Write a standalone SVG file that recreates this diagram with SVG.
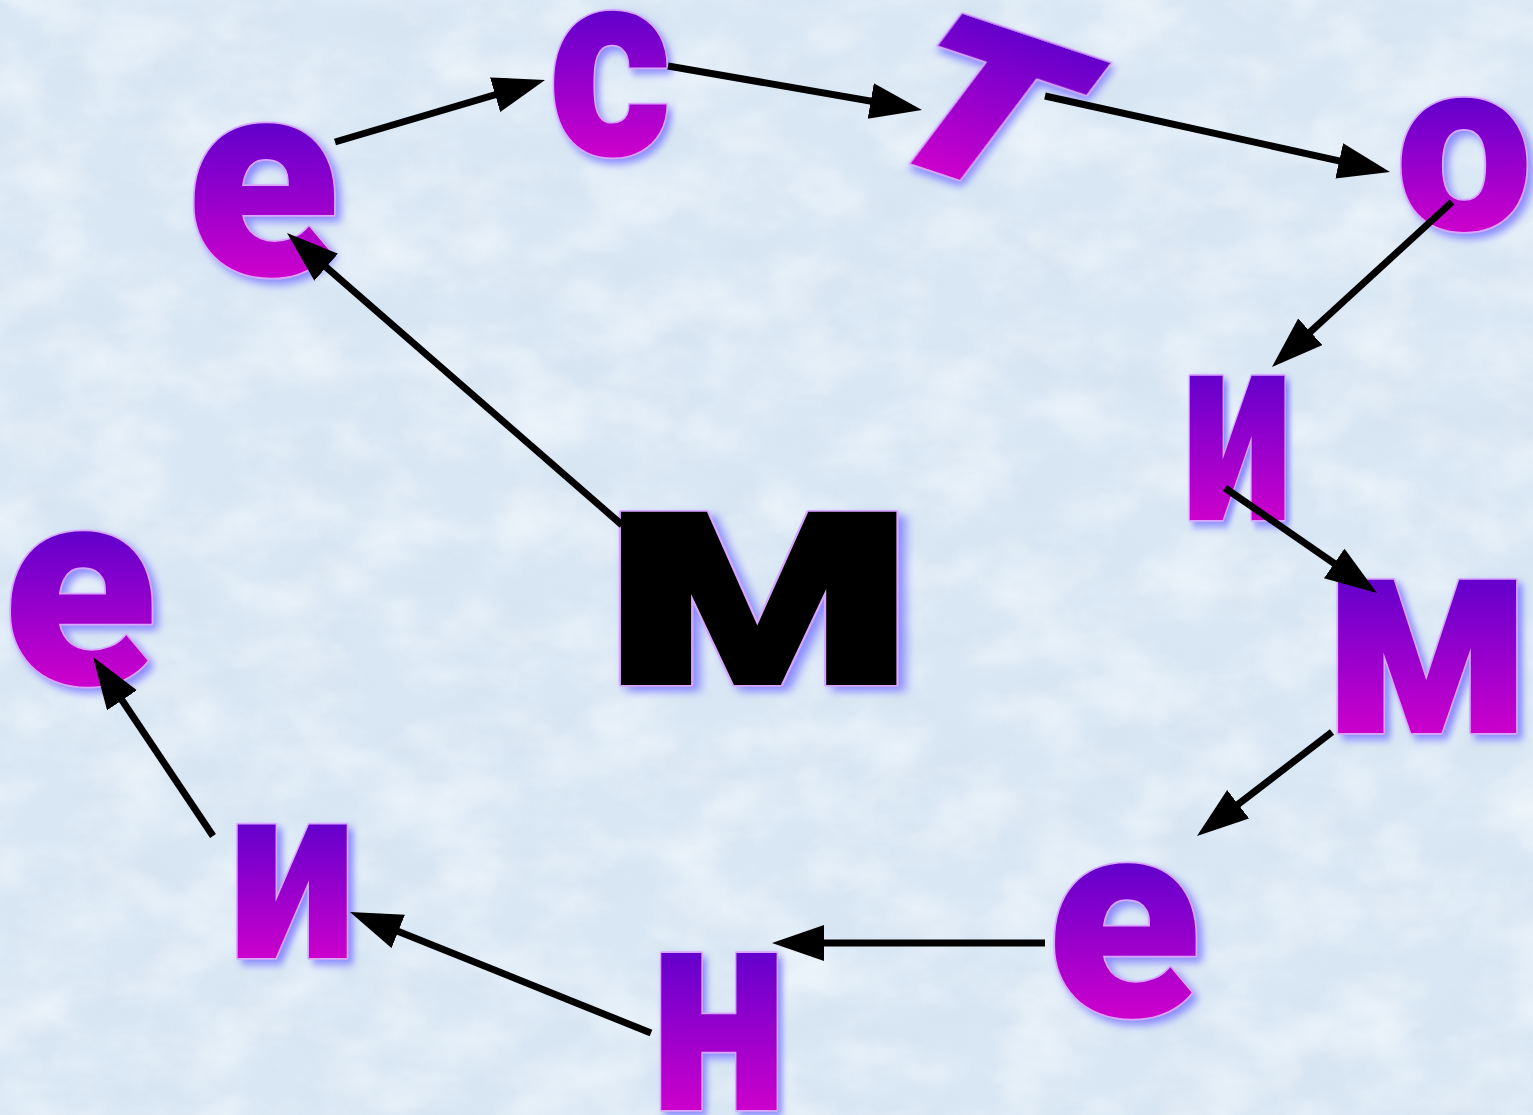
<svg xmlns="http://www.w3.org/2000/svg" width="1533" height="1115" viewBox="0 0 1533 1115">
<defs>
<linearGradient id="lg" x1="0" y1="0" x2="0" y2="1">
<stop offset="0.34" stop-color="#6400cc"/>
<stop offset="0.79" stop-color="#cc00cc"/>
</linearGradient>
<filter id="glow" x="-30%" y="-30%" width="160%" height="160%">
<feGaussianBlur in="SourceAlpha" stdDeviation="4" result="b"/>
<feOffset in="b" dx="5" dy="5" result="o"/>
<feFlood flood-color="#8080ff" flood-opacity="0.9"/>
<feComposite in2="o" operator="in" result="s"/>
<feMerge><feMergeNode in="s"/><feMergeNode in="SourceGraphic"/></feMerge>
</filter>
<filter id="tex" x="0" y="0" width="100%" height="100%">
<feTurbulence type="fractalNoise" baseFrequency="0.012 0.018" numOctaves="4" seed="7"/>
<feColorMatrix type="matrix" values="0 0 0 0 0.95  0 0 0 0 0.98  0 0 0 0 1  0 0 0 1.6 -0.6"/>
</filter>
<filter id="tex2" x="0" y="0" width="100%" height="100%">
<feTurbulence type="fractalNoise" baseFrequency="0.014 0.02" numOctaves="4" seed="21"/>
<feColorMatrix type="matrix" values="0 0 0 0 0.62  0 0 0 0 0.7  0 0 0 0 0.8  0 0 0 1.4 -0.6"/>
</filter>
<marker id="ah" markerUnits="userSpaceOnUse" markerWidth="54" markerHeight="38" refX="30" refY="18" orient="auto">
<path d="M0,0 L52,18 L0,36 z" fill="#000"/>
</marker>
<style>
.l{font-family:Roboto,"DejaVu Sans",sans-serif;font-weight:900;text-anchor:middle;fill:url(#lg);stroke:#d9a6ff;stroke-width:3.5;paint-order:stroke;stroke-linejoin:round;filter:url(#glow)}
.k{fill:#000}
.c line{stroke:#000;stroke-width:7;marker-end:url(#ah)}
</style>
</defs>
<rect width="1533" height="1115" fill="#d9e7f4"/>
<rect width="1533" height="1115" filter="url(#tex2)" opacity="0.4"/>
<rect width="1533" height="1115" filter="url(#tex)" opacity="0.7"/>
<g id="n-m0" transform="translate(760,685) scale(1.3,1)"><text class="l k" font-size="328">м</text></g>
<g id="n-e1" transform="translate(263,275)"><text class="l" font-size="282">е</text></g>
<g id="n-s" transform="translate(610,155) scale(0.89,1)"><text class="l" font-size="268">с</text></g>
<g id="n-t" transform="translate(936,172) rotate(18.4) skewX(-18.6) scale(1.05,1)"><text class="l" font-size="300">т</text></g>
<g id="n-o" transform="translate(1464,230)"><text class="l" font-size="245">о</text></g>
<g id="n-i1" transform="translate(1237,520) scale(0.73,1)"><text class="l" font-size="273">и</text></g>
<g id="n-m" transform="translate(1428,733) scale(0.95,1)"><text class="l" font-size="290">м</text></g>
<g id="n-e2" transform="translate(1124,1016)"><text class="l" font-size="284">е</text></g>
<g id="n-n" transform="translate(719,1110) scale(0.82,1)"><text class="l" font-size="297">н</text></g>
<g id="n-i2" transform="translate(292,958) scale(0.91,1)"><text class="l" font-size="252">и</text></g>
<g id="n-e3" transform="translate(80,684)"><text class="l" font-size="284">е</text></g>
<g class="c" id="connectors">
<line x1="622" y1="525" x2="303.6" y2="247.5"/>
<line x1="335" y1="142" x2="523.9" y2="86.2"/>
<line x1="668" y1="66" x2="900.3" y2="106.2"/>
<line x1="1045" y1="96" x2="1368.5" y2="167.3"/>
<line x1="1452" y1="202" x2="1288.2" y2="352.1"/>
<line x1="1225" y1="488" x2="1358.9" y2="580.5"/>
<line x1="1332" y1="732" x2="1214.4" y2="822.6"/>
<line x1="1045" y1="943" x2="794" y2="943"/>
<line x1="651" y1="1033" x2="370.4" y2="920.2"/>
<line x1="213" y1="836" x2="105.3" y2="675.3"/>
</g>
</svg>
